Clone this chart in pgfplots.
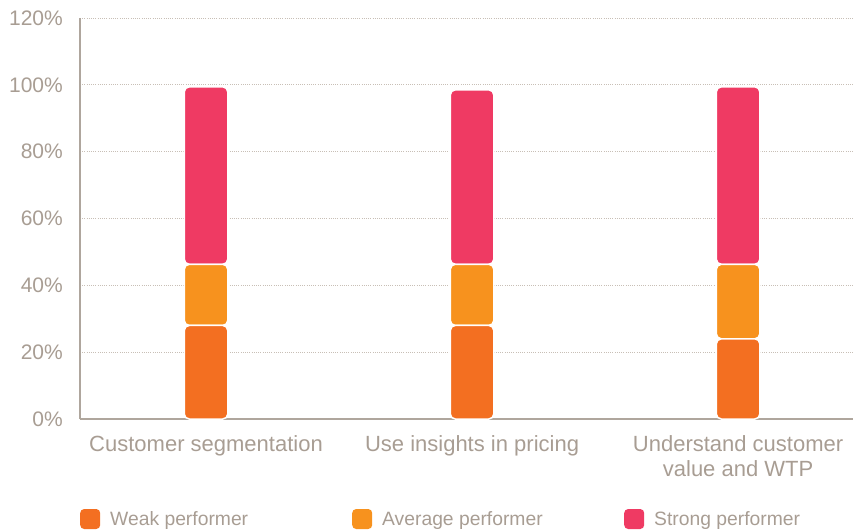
\documentclass[border=0pt]{standalone}
\usepackage{pgfplots}
\pgfplotsset{compat=1.18}
\usepackage{fontspec}
\setmainfont{Liberation Sans}

\definecolor{weak}{HTML}{F36F21}
\definecolor{average}{HTML}{F7921E}
\definecolor{strong}{HTML}{EF3A63}
\definecolor{txtgray}{HTML}{A89D93}
\definecolor{axgray}{HTML}{AFA69D}
\definecolor{gridgray}{HTML}{C8BFB6}

\begin{document}
\begin{tikzpicture}
\begin{axis}[
    scale only axis,
    width=773pt,
    height=401pt,
    at={(0,0)},
    ybar stacked,
    bar width=43.5pt,
    xmin=-0.4737, xmax=2.432,
    ymin=0, ymax=120,
    ytick={0,20,40,60,80,100,120},
    yticklabels={0\%,20\%,40\%,60\%,80\%,100\%,120\%},
    xtick={0,1,2},
    xticklabels={Customer segmentation,Use insights in pricing,{Understand customer\\value and WTP}},
    major tick length=0pt,
    axis x line*=bottom,
    axis y line*=left,
    x axis line style={-, axgray, line width=2.5pt},
    y axis line style={-, axgray, line width=1.5pt},
    ymajorgrids,
    grid style={gridgray, line width=0.9pt, dash pattern=on 1pt off 1.2pt},
    yticklabel style={font=\fontsize{21}{24}\selectfont, text=txtgray, inner xsep=0pt, xshift=-17pt},
    xticklabel style={font=\fontsize{22}{25.5}\selectfont, text=txtgray, align=center, inner ysep=0pt, yshift=-16pt},
    legend columns=3,
    legend cell align=left,
    legend style={at={(axis description cs:0,-0.2494)}, anchor=west, draw=none, fill=none,
        inner sep=0pt, column sep=0pt, nodes={inner sep=0pt, text=txtgray, font=\fontsize{19.3}{22}\selectfont}},
    legend image code/.code={\path[#1, draw=none, rounded corners=4pt] (0pt,-10pt) rectangle (20pt,10pt);},
]
\addplot[fill=weak, draw=white, line width=1.5pt, rounded corners=5pt] coordinates {(0,28) (1,28) (2,24)};
\addlegendentry{\hspace{10pt}\makebox[242pt][l]{Weak performer}}
\addplot[fill=average, draw=white, line width=1.5pt, rounded corners=5pt] coordinates {(0,18.3) (1,18.3) (2,22.3)};
\addlegendentry{\hspace{10pt}\makebox[242pt][l]{Average performer}}
\addplot[fill=strong, draw=white, line width=1.5pt, rounded corners=5pt] coordinates {(0,53.1) (1,52.2) (2,53.1)};
\addlegendentry{\hspace{10pt}Strong performer}
\end{axis}
\pgfresetboundingbox
\useasboundingbox (-80pt,-112pt) rectangle (773pt,419pt);
\end{tikzpicture}
\end{document}
